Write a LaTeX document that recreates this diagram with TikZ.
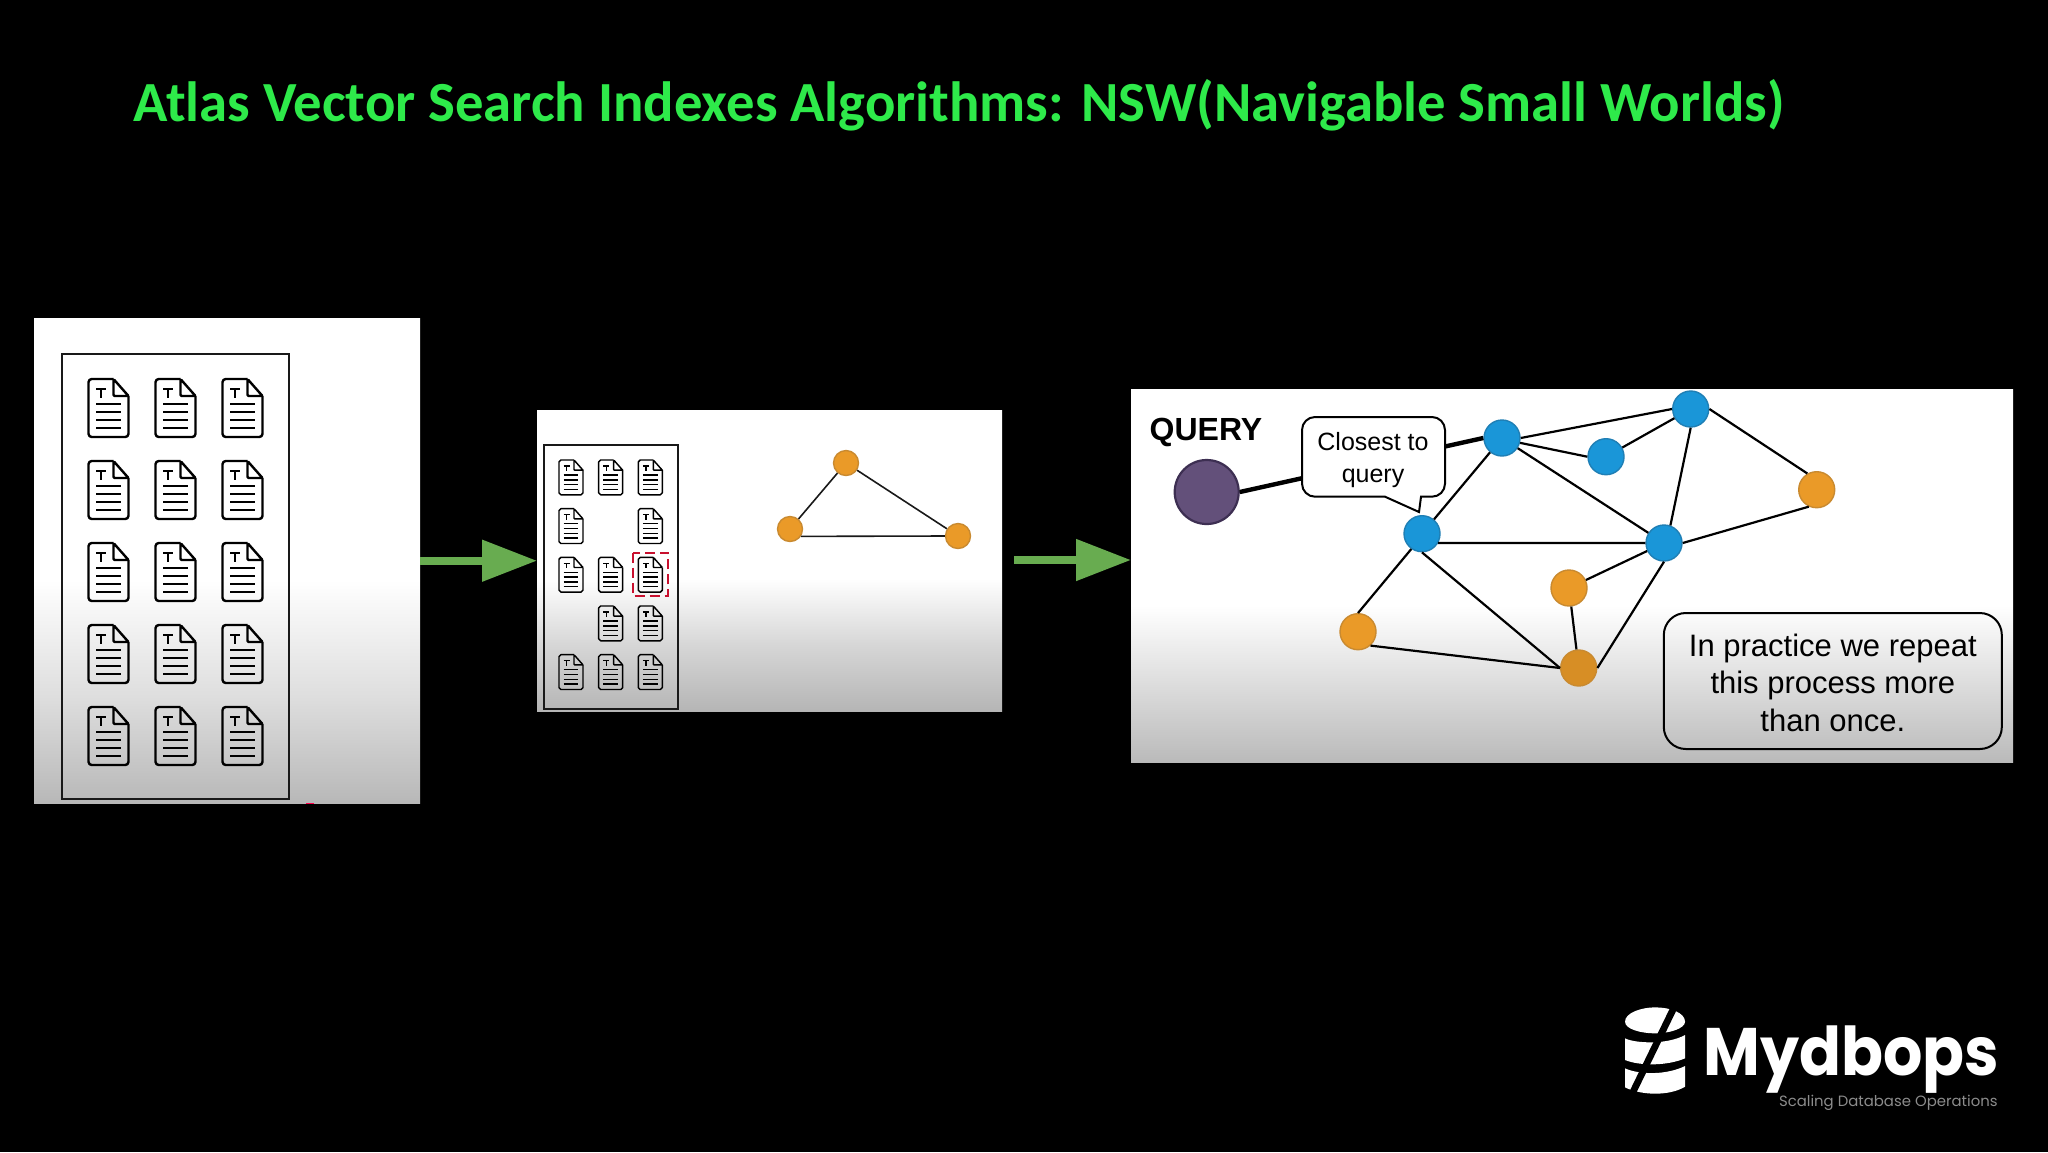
\documentclass[tikz,border=0pt]{standalone}
\usepackage{fontspec}
\setmainfont{Liberation Sans}
\newfontfamily\titlefont{Carlito}
\newfontfamily\logofont{Poppins}
\newfontfamily\brandfont[FakeStretch=0.92]{Poppins}
\usetikzlibrary{arrows.meta}
\definecolor{titlegreen}{HTML}{2EEA4A}
\definecolor{arrowgreen}{HTML}{68AC50}
\definecolor{nodeblue}{HTML}{1A96D8}
\definecolor{edgeblue}{HTML}{1F7FB5}
\definecolor{nodeorange}{HTML}{EA9A28}
\definecolor{edgeorange}{HTML}{C98A30}
\definecolor{nodepurple}{HTML}{63507A}
\definecolor{edgepurple}{HTML}{3D2F52}
\definecolor{dashred}{HTML}{C8102E}
\pgfdeclareverticalshading{panelone}{100bp}{rgb(0bp)=(.72,.72,.72);rgb(25bp)=(.72,.72,.72);rgb(36bp)=(.87,.87,.87);rgb(48bp)=(1,1,1);rgb(100bp)=(1,1,1)}
\pgfdeclareverticalshading{paneltwo}{100bp}{rgb(0bp)=(.71,.71,.71);rgb(25bp)=(.71,.71,.71);rgb(36bp)=(.84,.84,.84);rgb(47bp)=(1,1,1);rgb(100bp)=(1,1,1)}
\pgfdeclareverticalshading{panelthree}{100bp}{rgb(0bp)=(.73,.73,.73);rgb(25bp)=(.73,.73,.73);rgb(35bp)=(.86,.86,.86);rgb(46bp)=(1,1,1);rgb(100bp)=(1,1,1)}
\newcommand{\docicon}[4]{%
  \begin{scope}[shift={(#1,#2)},x=#3*0.5pt,y=-#3*0.5pt,line width=#4,line join=round]
    \draw[rounded corners=#3*1.6pt] (25,0) -- (0,0) -- (0,58) -- (40,58) -- (40,17);
    \draw[rounded corners=#3*0.6pt] (40,17) -- (25,17) -- (25,0) -- (40,17);
    \draw (7.7,10) -- (17.7,10) (12.7,10) -- (12.7,18.5);
    \foreach \ly in {25,33,41,48.7} \draw (7.7,\ly) -- (32.3,\ly);
  \end{scope}}
\tikzset{
  x=0.5pt,y=-0.5pt,
  panelbox/.style={inner sep=0pt,outer sep=0pt,draw=none},
  tray/.style={draw=black!90,line width=#1},
  blue dot/.style={circle,inner sep=0pt,minimum size=18pt,fill=nodeblue,draw=edgeblue,line width=0.7pt},
  orange dot/.style={circle,inner sep=0pt,minimum size=18pt,fill=nodeorange,draw=edgeorange,line width=0.7pt},
  small dot/.style={orange dot,minimum size=12.5pt},
  link/.style={draw=black,line width=1.1pt},
  thin link/.style={draw=black!90,line width=0.8pt},
  flow/.style={draw=arrowgreen,line width=4pt,-{Triangle[length=27.5pt,width=20pt]}},
}
\begin{document}
\begin{tikzpicture}
\useasboundingbox (0,0) rectangle (2048,1152);
\fill[black] (0,0) rectangle (2048,1152);

\node[font=\titlefont\bfseries\fontsize{28.35}{32}\selectfont,text=titlegreen,anchor=base west,inner sep=0pt] (title) at (133,121) {Atlas Vector Search Indexes Algorithms: NSW(Navigable Small Worlds)};

% panels
\node[panelbox,shading=panelone,minimum width=193pt,minimum height=242.5pt] (p1) at (227,560.7) {};
\node[panelbox,shading=paneltwo,minimum width=232.5pt,minimum height=150.5pt] (p2) at (769.5,560.7) {};
\node[panelbox,shading=panelthree,minimum width=441pt,minimum height=186.5pt] (p3) at (1572,575.5) {};
\fill[red!70!magenta] (306,802.5) rectangle (314,804);

% arrows
\draw[flow] (p1) -- (p2);
\coordinate (a2s) at (1014,560);
\draw[flow] (a2s) -- (a2s -| p3.west);

% first panel
\draw[tray=1.4pt] (62,354) rectangle (289,799);
\foreach \cx in {88.5,155.5,222.5}
  \foreach \cy in {379,461,543,625,707}
    {\docicon{\cx}{\cy}{1}{1.2pt}}

% second panel
\draw[tray=0.85pt] (543.7,445) rectangle (677.7,709);
\foreach \cx/\cy in {559/460,598.7/460,638.3/460,559/508.7,638.3/508.7,559/557.3,598.7/557.3,638.3/557.3,598.7/606,638.3/606,559/654.7,598.7/654.7,638.3/654.7}
  {\docicon{\cx}{\cy}{0.6}{0.72pt}}
\draw[dashred,line width=1.1pt,dash pattern=on 5pt off 2.5pt] (633,552.7) rectangle (668,596);

\node[small dot] (t1) at (846,463) {};
\node[small dot] (t2) at (790,529) {};
\node[small dot] (t3) at (958,536) {};
\draw[thin link] (t1) -- (t2);
\draw[thin link] (t1) -- (t3);
\draw[thin link] (t2.-34) -- (t3.west);

% third panel
\node[font=\bfseries\fontsize{16}{18}\selectfont,inner sep=0pt] (qlabel) at (1206,432) {QUERY};
\node[circle,inner sep=0pt,minimum size=32pt,fill=nodepurple,draw=edgepurple,line width=1.1pt] (Q) at (1206.7,492) {};
\node[blue dot] (A) at (1422,533.7) {};
\node[blue dot] (B) at (1502,438) {};
\node[blue dot] (C) at (1606,456.7) {};
\node[blue dot] (D) at (1690.7,409) {};
\node[blue dot] (E) at (1664,543) {};
\node[orange dot] (F) at (1816.7,489.7) {};
\node[orange dot] (G) at (1569,588) {};
\node[orange dot] (H) at (1358,631.7) {};
\node[orange dot,fill=nodeorange!92!black] (I) at (1578.7,668) {};

\draw[draw=black,line width=2.2pt] (Q.east) -- (B.west);
\draw[link] (A) -- (B);
\draw[link] (A.-30) -- (E.west);
\draw[link] (A.-125) -- (H.north);
\draw[link] (A.south) -- (I.west);
\draw[link] (H.-48) -- (I.west);
\draw[link] (G) -- (I);
\draw[link] (E) -- (G);
\draw[link] (E.south) -- (I.east);
\draw[link] (E.east) -- (F.-115);
\draw[link] (D.east) -- (F.120);
\draw[link] (D.south) -- (E.70);
\draw[link] (C) -- (D);
\draw[link] (B.-15) -- (C.west);
\draw[link] (B.east) -- (D.west);
\draw[link] (B) -- (E);

% callout
\draw[fill=white,draw=black,line width=1pt,rounded corners=6.5pt]
  (1302,417) -- (1445,417) -- (1445,496.7)
  [sharp corners] -- (1421,496.7) -- (1419,512) -- (1385,496.7)
  [rounded corners=6.5pt] -- (1302,496.7) -- cycle;
\node[font=\fontsize{12.5}{15.6}\selectfont,align=center,inner sep=0pt] (ctext) at (1373,460) {Closest to\\query};

% note
\node[draw=black,line width=1pt,rounded corners=11pt,minimum width=169pt,minimum height=68pt,inner sep=0pt] (notebox) at (1832.8,681) {};
\node[font=\fontsize{15.5}{18.75}\selectfont,align=center,inner sep=0pt] (note) at (1832.8,682.5) {In practice we repeat\\this process more\\than once.};

% logo
\begin{scope}[shift={(1600,980)},x=0.1667pt,y=-0.1667pt]
  \fill[white] (75,125) .. controls (75,98) and (125,82) .. (165,82) .. controls (210,82) and (255,98) .. (255,125)
     .. controls (255,145) and (210,160) .. (165,160) .. controls (125,160) and (75,148) .. (75,125) -- cycle;
  \fill[white] (75,175) .. controls (105,190) and (200,195) .. (255,165) -- (255,235) .. controls (200,258) and (120,258) .. (75,240) -- cycle;
  \fill[white] (75,265) .. controls (120,285) and (200,285) .. (255,258) -- (255,320) .. controls (205,350) and (120,345) .. (75,322) -- cycle;
  \draw[black,line width=3.4pt] (228,70) -- (92,350);
\end{scope}
\node[font=\brandfont\bfseries\fontsize{33.6}{38}\selectfont,text=white,anchor=base west,inner sep=0pt] (brand) at (1703,1075) {Mydbops};
\node[font=\logofont\fontsize{7.45}{9}\selectfont,text=black!45,anchor=base east,inner sep=0pt] (tagline) at (1998,1106) {Scaling Database Operations};
\end{tikzpicture}
\end{document}
